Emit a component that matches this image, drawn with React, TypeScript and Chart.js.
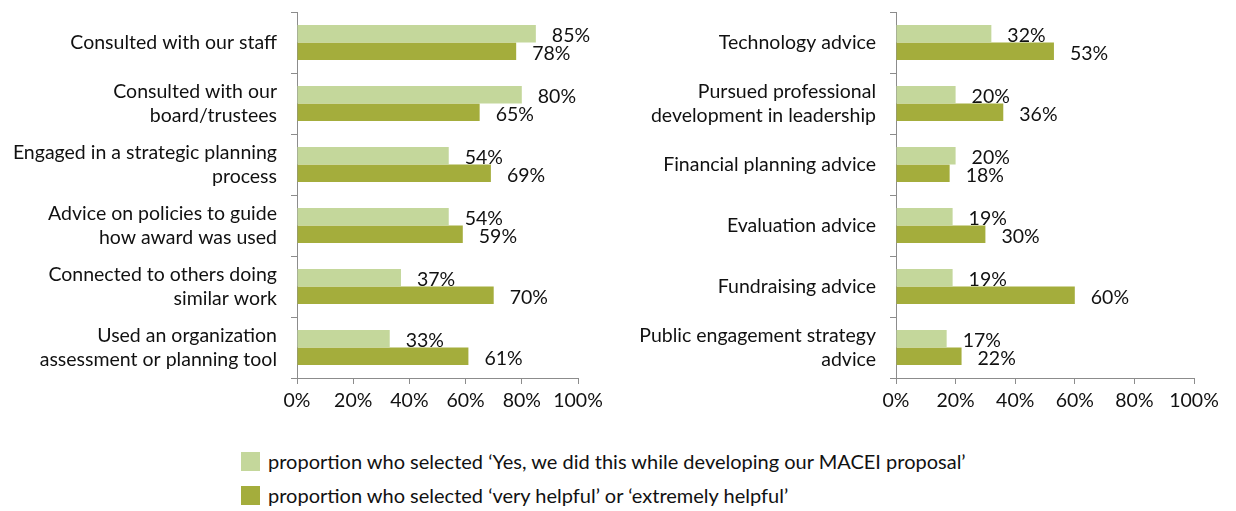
import React, { useEffect, useRef } from "react";
import { Chart, registerables } from "chart.js";

Chart.register(...registerables);

const leftCategories: (string | string[])[] = [
  "Consulted with our staff",
  ["Consulted with our", "board/trustees"],
  ["Engaged in a strategic planning", "process"],
  ["Advice on policies to guide", "how award was used"],
  ["Connected to others doing", "similar work"],
  ["Used an organization", "assessment or planning tool"],
];
const leftSelected = [85, 80, 54, 54, 37, 33];
const leftHelpful = [78, 65, 69, 59, 70, 61];

const rightCategories: (string | string[])[] = [
  "Technology advice",
  ["Pursued professional", "development in leadership"],
  "Financial planning advice",
  "Evaluation advice",
  "Fundraising advice",
  ["Public engagement strategy", "advice"],
];
const rightSelected = [32, 20, 20, 19, 19, 17];
const rightHelpful = [53, 36, 18, 30, 60, 22];

const xTicks = [0, 20, 40, 60, 80, 100];

const legendLabels = [
  "proportion who selected \u2018Yes, we did this while developing our MACEI proposal\u2019",
  "proportion who selected \u2018very helpful\u2019 or \u2018extremely helpful\u2019",
];

const LIGHT = "#C4D79B";
const DARK = "#A4AD3C";
const AXIS = "#8C8C8C";
const FONT = "Lato";
const FS = 19.5;

const labelPlugin = {
  id: "valueLabels",
  afterDatasetsDraw(chart: any) {
    const ctx = chart.ctx;
    ctx.save();
    ctx.font = `${FS}px ${FONT}`;
    ctx.fillStyle = "#111";
    ctx.textAlign = "left";
    ctx.textBaseline = "middle";
    chart.data.datasets.forEach((ds: any, i: number) => {
      const meta = chart.getDatasetMeta(i);
      meta.data.forEach((el: any, j: number) => {
        ctx.fillText(`${ds.data[j]}%`, el.x + 16, el.y + 2);
      });
    });
    ctx.restore();
  },
};

function makeConfig(
  labels: (string | string[])[],
  selected: number[],
  helpful: number[],
  yWidth: number,
  padRight: number
): any {
  return {
    type: "bar",
    data: {
      labels,
      datasets: [
        {
          data: selected,
          backgroundColor: LIGHT,
          categoryPercentage: 0.575,
          barPercentage: 1,
        },
        {
          data: helpful,
          backgroundColor: DARK,
          categoryPercentage: 0.575,
          barPercentage: 1,
        },
      ],
    },
    options: {
      indexAxis: "y",
      responsive: false,
      animation: false,
      layout: { padding: { top: 12, right: padRight, left: 0, bottom: 0 } },
      plugins: {
        legend: { display: false },
        tooltip: { enabled: false },
      },
      scales: {
        x: {
          min: 0,
          max: 100,
          afterBuildTicks: (scale: any) => {
            scale.ticks = xTicks.map((v) => ({ value: v }));
          },
          afterFit: (scale: any) => {
            scale.height = 420 - 378;
            scale.paddingLeft = 0;
            scale.paddingRight = 0;
          },
          ticks: {
            callback: (v: any) => `${v}%`,
            font: { family: FONT, size: FS },
            color: "#111",
            padding: 5,
            maxRotation: 0,
          },
          grid: {
            drawOnChartArea: false,
            drawTicks: true,
            tickLength: 6,
            color: AXIS,
          },
          border: { color: AXIS, width: 1 },
        },
        y: {
          afterFit: (scale: any) => {
            scale.width = yWidth;
            scale.paddingTop = 0;
            scale.paddingBottom = 0;
          },
          ticks: {
            font: { family: FONT, size: FS, lineHeight: 1.25 },
            color: "#111",
            padding: 14,
          },
          grid: {
            drawOnChartArea: false,
            drawTicks: true,
            tickLength: 6,
            offset: true,
            color: AXIS,
          },
          border: { color: AXIS, width: 1 },
        },
      },
    },
    plugins: [labelPlugin],
  };
}

export default function App() {
  const leftRef = useRef<HTMLCanvasElement>(null);
  const rightRef = useRef<HTMLCanvasElement>(null);

  useEffect(() => {
    document.body.style.margin = "0";
    const c1 = new Chart(
      leftRef.current!,
      makeConfig(leftCategories, leftSelected, leftHelpful, 297, 620 - 578)
    );
    const c2 = new Chart(
      rightRef.current!,
      makeConfig(rightCategories, rightSelected, rightHelpful, 896 - 620, 616 - (1194 - 620))
    );
    return () => {
      c1.destroy();
      c2.destroy();
    };
  }, []);

  return (
    <div
      style={{
        position: "absolute",
        left: 0,
        top: 0,
        width: 1236,
        height: 511,
        background: "#fff",
        overflow: "hidden",
        fontFamily: FONT,
      }}
    >
      <canvas
        ref={leftRef}
        width={620}
        height={420}
        style={{ position: "absolute", left: 0, top: 0, width: 620, height: 420 }}
      />
      <canvas
        ref={rightRef}
        width={616}
        height={420}
        style={{ position: "absolute", left: 620, top: 0, width: 616, height: 420 }}
      />
      {legendLabels.map((t, i) => (
        <div
          key={i}
          style={{
            position: "absolute",
            left: 241,
            top: 452 + i * 34,
            height: 19,
            display: "flex",
            alignItems: "center",
            whiteSpace: "nowrap",
          }}
        >
          <div
            style={{
              width: 19,
              height: 19,
              background: i === 0 ? LIGHT : DARK,
              marginRight: 8,
            }}
          />
          <span style={{ fontSize: 20, color: "#111", lineHeight: "19px" }}>{t}</span>
        </div>
      ))}
    </div>
  );
}
